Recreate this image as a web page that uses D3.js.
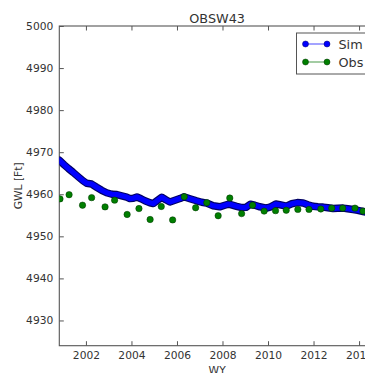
<!DOCTYPE html>
<html>
<head>
<meta charset="utf-8">
<script src="https://cdn.jsdelivr.net/npm/d3@7"></script>
<style>
  html, body { margin: 0; padding: 0; background: #fff; }
  svg { display: block; font-family: "DejaVu Sans", sans-serif; }
</style>
</head>
<body>
<svg id="chart" width="365" height="373"></svg>
<script>
// Simulated groundwater level at well OBSW43 (water years)
const simYears = [2000.83, 2001.04, 2001.23, 2001.43, 2001.66, 2001.87, 2002.03, 2002.25, 2002.47, 2002.69,
  2002.91, 2003.14, 2003.36, 2003.57, 2003.79, 2003.93, 2004.08, 2004.24, 2004.42, 2004.59,
  2004.81, 2004.96, 2005.12, 2005.33, 2005.51, 2005.69, 2005.91, 2006.13, 2006.30, 2006.57,
  2006.86, 2007.09, 2007.30, 2007.59, 2007.88, 2008.10, 2008.28, 2008.62, 2008.85, 2009.03,
  2009.22, 2009.42, 2009.64, 2009.93, 2010.12, 2010.34, 2010.52, 2010.81, 2011.04, 2011.29,
  2011.54, 2011.75, 2011.98, 2012.19, 2012.42, 2012.63, 2012.86, 2013.06, 2013.30, 2013.50,
  2013.74, 2013.94, 2014.18, 2014.42, 2014.67];
const simValues = [4968.10, 4967.02, 4966.12, 4965.24, 4964.17, 4963.21, 4962.62, 4962.43, 4961.67, 4960.95,
  4960.36, 4960.00, 4959.93, 4959.64, 4959.33, 4958.98, 4959.05, 4959.36, 4958.93, 4958.45,
  4957.98, 4957.79, 4958.45, 4959.29, 4958.69, 4958.17, 4958.57, 4958.98, 4959.40, 4958.93,
  4958.45, 4958.10, 4957.90, 4957.26, 4957.02, 4957.38, 4957.67, 4957.14, 4956.83, 4956.90,
  4957.62, 4957.38, 4957.02, 4956.71, 4957.02, 4957.67, 4957.50, 4957.19, 4957.74, 4958.02,
  4957.93, 4957.50, 4957.14, 4957.02, 4956.95, 4956.79, 4956.60, 4956.67, 4956.71, 4956.55,
  4956.36, 4956.19, 4955.90, 4955.60, 4955.40];

// Observed groundwater level
const obsYears = [2000.86, 2001.26, 2001.85, 2002.25, 2002.84, 2003.26, 2003.81, 2004.33, 2004.82, 2005.31,
  2005.81, 2006.32, 2006.82, 2007.31, 2007.81, 2008.32, 2008.84, 2009.32, 2009.83, 2010.33,
  2010.80, 2011.31, 2011.80, 2012.32, 2012.80, 2013.28, 2013.82, 2014.17];
const obsValues = [4958.9, 4959.9, 4957.4, 4959.2, 4957.0, 4958.6, 4955.2, 4956.6, 4954.0, 4957.1,
  4953.9, 4959.4, 4956.8, 4958.0, 4954.9, 4959.1, 4955.4, 4957.4, 4956.0, 4956.1,
  4956.2, 4956.4, 4956.4, 4956.5, 4956.7, 4956.7, 4956.7, 4956.0];

const xTicks = [2002, 2004, 2006, 2008, 2010, 2012, 2014];
const yTicks = [4930, 4940, 4950, 4960, 4970, 4980, 4990, 5000];
const seriesNames = ["Sim", "Obs"];
const titleText = "OBSW43";
const xLabel = "WY";
const yLabel = "GWL [Ft]";

const plot = { left: 59.3, top: 26, right: 375, bottom: 345.7 };
const ink = "#333";
const simColor = "#0000ff", simEdge = "#000066";
const obsColor = "#007f00", obsEdge = "#003300";

const svg = d3.select("#chart");

const x = d3.scaleLinear().domain([2000.83, 2014.7]).range([plot.left, plot.right]);
const y = d3.scaleLinear().domain([4924, 5000]).range([plot.bottom, plot.top]);

svg.append("defs").append("clipPath").attr("id", "plotClip")
  .append("rect")
  .attr("x", plot.left).attr("y", plot.top)
  .attr("width", plot.right - plot.left).attr("height", plot.bottom - plot.top);

// Axes with inward ticks
const fontSize = "10.7px";
const gx = svg.append("g").attr("transform", `translate(0,${plot.bottom})`)
  .call(d3.axisBottom(x).tickValues(xTicks).tickFormat(d3.format("d"))
    .tickSizeInner(-4.5).tickSizeOuter(0).tickPadding(6));
const gxTop = svg.append("g").attr("transform", `translate(0,${plot.top})`)
  .call(d3.axisTop(x).tickValues(xTicks).tickFormat("")
    .tickSizeInner(-4.5).tickSizeOuter(0));
const gy = svg.append("g").attr("transform", `translate(${plot.left},0)`)
  .call(d3.axisLeft(y).tickValues(yTicks).tickFormat(d3.format("d"))
    .tickSizeInner(-4.5).tickSizeOuter(0).tickPadding(6));

[gx, gxTop, gy].forEach(g => {
  g.select(".domain").remove();
  g.selectAll(".tick line").attr("stroke", "#555").attr("stroke-width", 1);
  g.selectAll(".tick text").attr("fill", ink).style("font-size", fontSize)
    .style("font-family", "DejaVu Sans, sans-serif");
});

// Plot frame
svg.append("rect")
  .attr("x", plot.left).attr("y", plot.top)
  .attr("width", plot.right - plot.left).attr("height", plot.bottom - plot.top)
  .attr("fill", "none").attr("stroke", "#555").attr("stroke-width", 1.1);

const data = (xs, vs) => xs.map((t, i) => ({ t, v: vs[i] }));
const simData = data(simYears, simValues);
const obsData = data(obsYears, obsValues);

const line = d3.line().x(d => x(d.t)).y(d => y(d.v));
const marks = svg.append("g").attr("clip-path", "url(#plotClip)");

// Simulated series: densely marked line drawn as a thick band with dark marker edges
marks.append("path").datum(simData)
  .attr("d", line).attr("fill", "none")
  .attr("stroke", simEdge).attr("stroke-width", 7.5)
  .attr("stroke-linejoin", "round").attr("stroke-linecap", "round");
marks.append("path").datum(simData)
  .attr("d", line).attr("fill", "none")
  .attr("stroke", simColor).attr("stroke-width", 5.2)
  .attr("stroke-linejoin", "round").attr("stroke-linecap", "round");

// Observed series: markers only
marks.selectAll("circle.obs").data(obsData).enter().append("circle")
  .attr("class", "obs")
  .attr("cx", d => x(d.t)).attr("cy", d => y(d.v))
  .attr("r", 3.2)
  .attr("fill", obsColor).attr("stroke", obsEdge).attr("stroke-width", 0.5);

// Title and axis labels
svg.append("text").attr("x", (plot.left + plot.right) / 2).attr("y", 22.5)
  .attr("text-anchor", "middle").attr("fill", ink).style("font-size", "12.8px")
  .text(titleText);
svg.append("text").attr("x", (plot.left + plot.right) / 2).attr("y", 374)
  .attr("text-anchor", "middle").attr("fill", ink).style("font-size", fontSize)
  .text(xLabel);
svg.append("text")
  .attr("transform", `translate(22,${(plot.top + plot.bottom) / 2}) rotate(-90)`)
  .attr("text-anchor", "middle").attr("fill", ink).style("font-size", fontSize)
  .text(yLabel);

// Legend
const legend = svg.append("g");
legend.append("rect")
  .attr("x", 296.5).attr("y", 33).attr("width", 72).attr("height", 41)
  .attr("fill", "#fff").attr("stroke", "#555").attr("stroke-width", 1);
const legendItems = [
  { name: seriesNames[0], color: simColor, edge: simEdge, line: "#6666ff" },
  { name: seriesNames[1], color: obsColor, edge: obsEdge, line: "#66aa66" }
];
legendItems.forEach((it, i) => {
  const ly = 44 + i * 18;
  legend.append("line").attr("x1", 305.5).attr("x2", 327).attr("y1", ly).attr("y2", ly)
    .attr("stroke", it.line).attr("stroke-width", 1.2);
  [305.5, 327].forEach(cx => legend.append("circle")
    .attr("cx", cx).attr("cy", ly).attr("r", 3)
    .attr("fill", it.color).attr("stroke", it.edge).attr("stroke-width", 0.5));
  legend.append("text").attr("x", 338.5).attr("y", ly).attr("dy", "0.36em")
    .attr("fill", ink).style("font-size", "12.8px").text(it.name);
});
</script>
</body>
</html>
